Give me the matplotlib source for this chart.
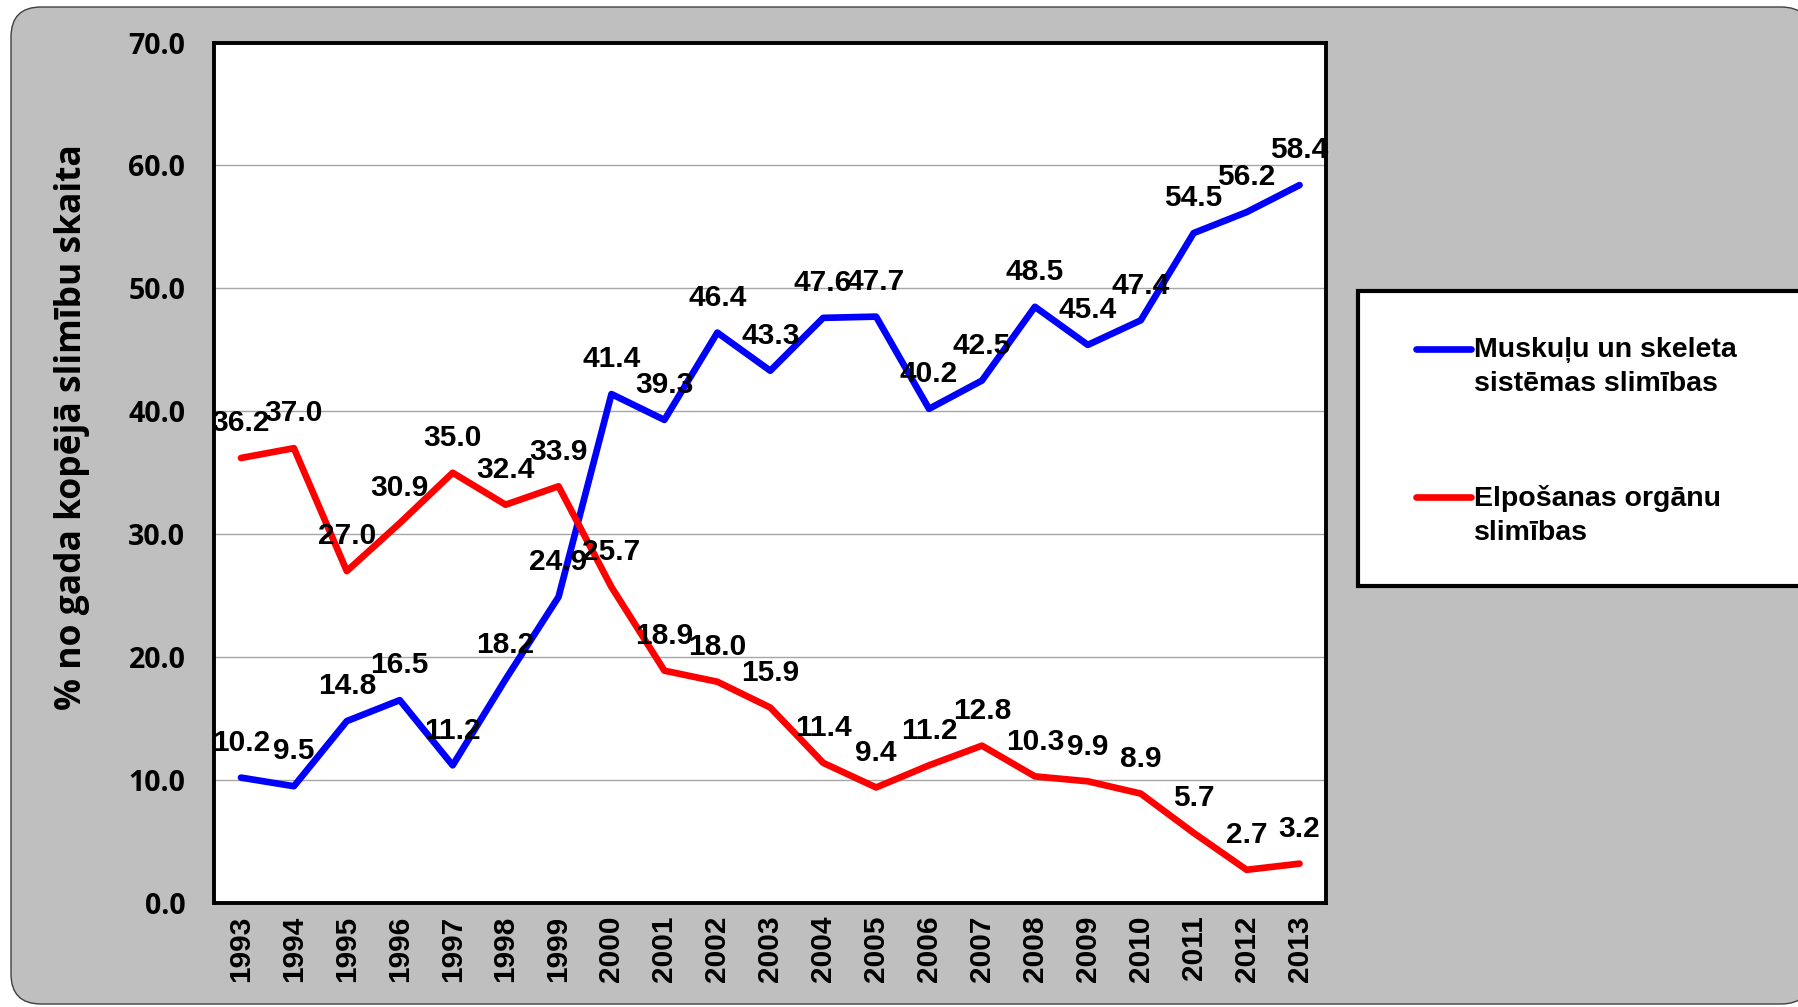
import numpy as np
import matplotlib
matplotlib.use("Agg")
from matplotlib import pyplot as plt
from matplotlib.patches import FancyBboxPatch, Rectangle
from matplotlib.lines import Line2D
from matplotlib.transforms import IdentityTransform

years = list(range(1993, 2014))
musk = [10.2, 9.5, 14.8, 16.5, 11.2, 18.2, 24.9, 41.4, 39.3, 46.4, 43.3,
        47.6, 47.7, 40.2, 42.5, 48.5, 45.4, 47.4, 54.5, 56.2, 58.4]
elpo = [36.2, 37.0, 27.0, 30.9, 35.0, 32.4, 33.9, 25.7, 18.9, 18.0, 15.9,
        11.4, 9.4, 11.2, 12.8, 10.3, 9.9, 8.9, 5.7, 2.7, 3.2]
series_names = ["Muskuļu un skeleta\nsistēmas slimības",
                "Elpošanas orgānu\nslimības"]
series_colors = ["#0000FF", "#FF0000"]
y_label = "% no gada kopējā slimību skaita"

W, H = 1799, 1007
fig = plt.figure(figsize=(W / 100, H / 100), dpi=100)
fig.patch.set_facecolor("white")

# grey rounded background panel (pixel coords)
bg = FancyBboxPatch((11, 3), 1800, 997, boxstyle="round,pad=0,rounding_size=30",
                    facecolor="#BFBFBF", edgecolor="#404040", linewidth=1,
                    transform=IdentityTransform(), zorder=0)
fig.add_artist(bg)

ax = fig.add_axes([214.5 / W, 1 - 903 / H, (1326 - 214.5) / W, (903 - 42.5) / H])
ax.set_facecolor("white")
ax.set_zorder(1)

for vals, col in zip([musk, elpo], series_colors):
    ax.plot(years, vals, color=col, lw=4.8, solid_joinstyle="round",
            solid_capstyle="round", zorder=3)
    for x, v in zip(years, vals):
        ax.annotate(f"{v:.1f}", (x, v), xytext=(0, 25), textcoords="offset points",
                    ha="center", va="center", fontsize=21.5, fontweight="bold",
                    family="Liberation Sans", zorder=4)

ax.set_xlim(1992.5, 2013.5)
ax.set_ylim(0, 70)
ax.set_xticks(years)
ax.set_xticklabels([str(y) for y in years], rotation=90, fontsize=21.5,
                   fontweight="bold", family="Liberation Sans")
ax.set_yticks(np.arange(0, 71, 10))
ax.set_yticklabels([f"{v:.1f}" for v in np.arange(0, 71, 10)], fontsize=20.5,
                   fontweight="bold", family="Open Sans")
ax.tick_params(axis="both", length=0)
ax.tick_params(axis="y", pad=21)
ax.tick_params(axis="x", pad=9)
ax.yaxis.grid(True, color="#A6A6A6", lw=1)
ax.set_axisbelow(True)
for sp in ax.spines.values():
    sp.set_linewidth(2.8)
    sp.set_color("black")

fig.text(72 / W, 1 - 427 / H, y_label, rotation=90, ha="center", va="center",
         fontsize=25.5, fontweight="bold", family="Open Sans")

# legend box
fig.add_artist(Rectangle((1358, H - 586), 460, 295, facecolor="white",
                         edgecolor="black", linewidth=3,
                         transform=IdentityTransform(), zorder=2))
for name, col, ly in zip(series_names, series_colors, [349, 497]):
    fig.add_artist(Line2D([1416, 1471], [H - ly, H - ly], color=col, lw=4.8,
                          solid_capstyle="round", transform=IdentityTransform(),
                          zorder=3))
    fig.text(1474 / W, 1 - (ly - 12) / H, name, ha="left", va="top",
             fontsize=20.5, fontweight="bold", family="Liberation Sans",
             linespacing=1.42, zorder=3)

fig.savefig("out.png", dpi=100)
